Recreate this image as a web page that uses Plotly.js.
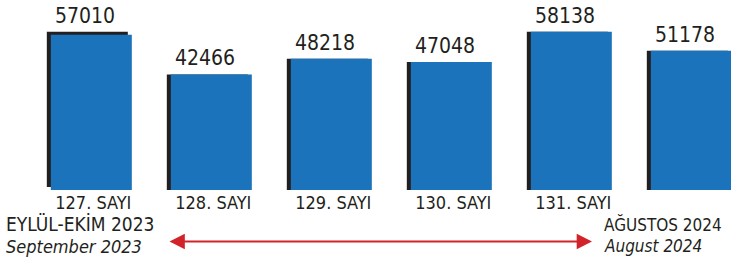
<!DOCTYPE html>
<html>
<head>
<meta charset="utf-8">
<script src="https://cdn.plot.ly/plotly-3.0.1.min.js"></script>
<style>html,body{margin:0;padding:0;background:#fff;}#chart{width:731px;height:264px;}</style>
</head>
<body>
<div id="chart"></div>
<script>
// ---- data ----
const categories = ["127. SAYI", "128. SAYI", "129. SAYI", "130. SAYI", "131. SAYI", "132. SAYI"];
const values = [57010, 42466, 48218, 47048, 58138, 51178];
const valueLabels = ["57010", "42466", "48218", "47048", "58138", "51178"];
const startLabel = ["EYLÜL-EKİM 2023", "September 2023"];
const endLabel = ["AĞUSTOS 2024", "August 2024"];

// ---- style / layout ----
const W = 731, H = 264;
const mT = 0, mB = 74;
const plotH = H - mT - mB;            // 190
const yMax = 69800;
const pxPerCat = 120;
const xStart = -0.761;
const xEnd = xStart + W / pxPerCat;
const blueW = 81 / pxPerCat;
const shadowW = 4 / pxPerCat;
const unitPerPx = yMax / plotH;
const FONT = "'DejaVu Sans Condensed', 'Liberation Sans', Arial, sans-serif";
const ink = "#231f20";
const blue = "#1b74bb";

const idx = categories.map((_, i) => i);
// shadow of the first bar is lifted a little
const shadowBase = values.map((v, i) => i === 0 ? 3 * unitPerPx : 0);

const shadow = {
  type: "bar", x: idx, y: values, base: shadowBase,
  width: blueW, offset: -blueW / 2 - shadowW,
  marker: {color: ink, line: {width: 0}},
  hoverinfo: "skip", showlegend: false
};
const bars = {
  type: "bar", x: idx, y: values,
  width: blueW, offset: -blueW / 2,
  marker: {color: blue, line: {width: 0}},
  hoverinfo: "skip", showlegend: false
};

const py = p => (H - mB - p) / plotH;   // pixel y -> paper y
const pxp = p => p / W;                 // pixel x -> paper x

const annotations = values.map((v, i) => ({
  x: i, y: v + shadowBase[i], xref: "x", yref: "y",
  text: valueLabels[i], showarrow: false, borderpad: 0,
  xanchor: "center", yanchor: "bottom", xshift: -6, yshift: 3,
  font: {family: FONT, size: 21, color: ink}
}));

annotations.push(
  {xref: "paper", yref: "paper", x: pxp(5), y: py(224), xanchor: "left", yanchor: "middle",
   text: startLabel[0], showarrow: false, borderpad: 0, font: {family: FONT, size: 19, color: ink}},
  {xref: "paper", yref: "paper", x: pxp(5), y: py(246), xanchor: "left", yanchor: "middle",
   text: "<i>" + startLabel[1] + "</i>", showarrow: false, borderpad: 0, font: {family: FONT, size: 18, color: ink}},
  {xref: "paper", yref: "paper", x: pxp(603), y: py(225), xanchor: "left", yanchor: "middle",
   text: endLabel[0], showarrow: false, borderpad: 0, font: {family: FONT, size: 17, color: ink}},
  {xref: "paper", yref: "paper", x: pxp(603), y: py(246), xanchor: "left", yanchor: "middle",
   text: "<i>" + endLabel[1] + "</i>", showarrow: false, borderpad: 0, font: {family: FONT, size: 17, color: ink}},
  // double-headed red arrow
  {xref: "paper", yref: "paper", x: pxp(592), y: py(241.5), ax: -424, ay: 0,
   axref: "pixel", ayref: "pixel", text: "", showarrow: true,
   arrowhead: 2, startarrowhead: 2, arrowside: "end+start",
   arrowsize: 1.7, startarrowsize: 1.7, arrowwidth: 1.8, arrowcolor: "#d2232a"}
);

const layout = {
  width: W, height: H,
  margin: {l: 0, r: 0, t: mT, b: mB, pad: 0},
  paper_bgcolor: "#fff", plot_bgcolor: "#fff",
  barmode: "overlay",
  xaxis: {
    range: [xStart, xEnd], tickmode: "array", tickvals: idx.map(i => i + 2 / pxPerCat),
    ticktext: categories, showgrid: false, zeroline: false, showline: false,
    ticks: "", fixedrange: true,
    tickfont: {family: FONT, size: 18, color: ink}
  },
  yaxis: {range: [0, yMax], visible: false, fixedrange: true},
  annotations: annotations,
  showlegend: false
};

Plotly.newPlot("chart", [shadow, bars], layout, {displayModeBar: false, staticPlot: true});
</script>
</body>
</html>
